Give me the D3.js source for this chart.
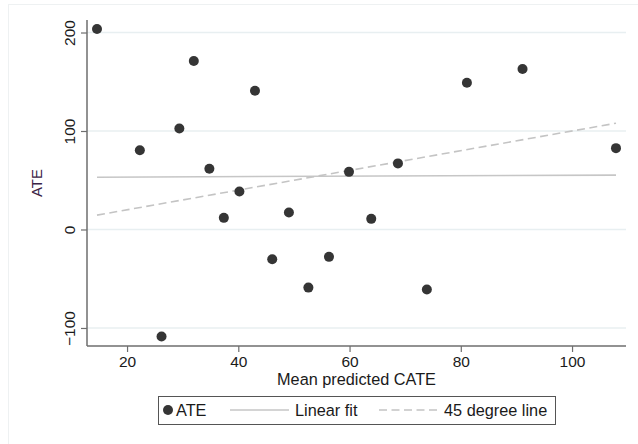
<!DOCTYPE html>
<html>
<head>
<meta charset="utf-8">
<script src="https://cdn.jsdelivr.net/npm/d3@7"></script>
<style>
  html, body { margin: 0; padding: 0; background: #fff; }
  svg { display: block; font-family: "Liberation Sans", Arial, sans-serif; }
</style>
</head>
<body>
<svg id="chart" width="638" height="444"></svg>
<script>
// Data
const cateX = [14.6, 22.3, 26.2, 29.4, 32.0, 34.8, 37.4, 40.2, 43.0, 46.1,
               49.1, 52.6, 56.3, 59.9, 63.9, 68.7, 73.9, 81.1, 91.1, 107.9];
const ateY  = [203.6, 80.5, -108.7, 102.6, 171.0, 61.6, 11.8, 38.6, 140.9, -30.2,
               17.3, -59.0, -27.8, 58.5, 10.8, 67.1, -61.0, 149.0, 162.9, 82.6];
const fitX = [14.6, 107.9];
const fitY = [53.1, 55.2];
const degX = [14.6, 107.9];
const xTicks = [20, 40, 60, 80, 100];
const yTicks = [-100, 0, 100, 200];
const legendLabels = ["ATE", "Linear fit", "45 degree line"];

const svg = d3.select("#chart");
const L = 87, R = 626, T = 20, B = 346;

const x = d3.scaleLinear().domain([12.8, 109.7]).range([L, R]);
const y = d3.scaleLinear().domain([-118.3, 212.7]).range([B, T]);

// faint outer frame
svg.append("rect").attr("x", 8.5).attr("y", 4.5).attr("width", 640).attr("height", 450)
  .attr("fill", "none").attr("stroke", "#eef1f2").attr("stroke-width", 1);

// gridlines
svg.append("g").selectAll("line").data(yTicks).join("line")
  .attr("x1", L).attr("x2", R)
  .attr("y1", d => y(d)).attr("y2", d => y(d))
  .attr("stroke", "#e8eff1").attr("stroke-width", 1.5);

// axes
const yAxis = svg.append("g").attr("transform", `translate(${L},0)`)
  .call(d3.axisLeft(y).tickValues(yTicks).tickSize(6).tickPadding(5).tickFormat(d3.format("d")));
const xAxis = svg.append("g").attr("transform", `translate(0,${B})`)
  .call(d3.axisBottom(x).tickValues(xTicks).tickSize(6).tickPadding(4).tickFormat(d3.format("d")));

[yAxis, xAxis].forEach(a => {
  a.select(".domain").attr("stroke", "#6e6e6e").attr("stroke-width", 1.5);
  a.selectAll(".tick line").attr("stroke", "#6e6e6e").attr("stroke-width", 1.2);
  a.selectAll(".tick text").attr("fill", "#1a1a1a").attr("font-size", 15.5)
    .attr("font-family", "Liberation Sans, Arial, sans-serif");
});
yAxis.select(".domain").attr("d", `M0,${T}V${B}`);
xAxis.select(".domain").attr("d", `M${L},0H${R}`);

// rotate y tick labels (Stata style)
yAxis.selectAll(".tick text")
  .attr("transform", "rotate(-90)")
  .attr("x", 0).attr("y", -12)
  .attr("dy", 0)
  .attr("text-anchor", "middle");

// axis titles
svg.append("text").attr("transform", `translate(42,183) rotate(-90)`)
  .attr("text-anchor", "middle").attr("font-size", 15).attr("fill", "#3a2346")
  .text("ATE");
svg.append("text").attr("x", (L + R) / 2).attr("y", 385)
  .attr("text-anchor", "middle").attr("font-size", 16.3).attr("fill", "#1a1a1a")
  .text("Mean predicted CATE");

// linear fit
const line = d3.line().x(d => x(d[0])).y(d => y(d[1]));
svg.append("path").datum(d3.zip(fitX, fitY)).attr("d", line)
  .attr("fill", "none").attr("stroke", "#c6c6c6").attr("stroke-width", 1.6);

// 45 degree line
svg.append("path").datum(degX.map(v => [v, v])).attr("d", line)
  .attr("fill", "none").attr("stroke", "#c4c4c4").attr("stroke-width", 1.6)
  .attr("stroke-dasharray", "8,4.5");

// points
svg.append("g").selectAll("circle").data(d3.zip(cateX, ateY)).join("circle")
  .attr("cx", d => x(d[0])).attr("cy", d => y(d[1])).attr("r", 5)
  .attr("fill", "#353535");

// legend
const lg = svg.append("g");
lg.append("rect").attr("x", 158.5).attr("y", 396.5).attr("width", 397).attr("height", 28)
  .attr("fill", "#fff").attr("stroke", "#555").attr("stroke-width", 1);
lg.append("circle").attr("cx", 168).attr("cy", 410).attr("r", 5).attr("fill", "#353535");
lg.append("text").attr("x", 176).attr("y", 416).attr("font-size", 16.3).attr("fill", "#1a1a1a").text(legendLabels[0]);
lg.append("line").attr("x1", 230).attr("x2", 289).attr("y1", 410).attr("y2", 410)
  .attr("stroke", "#c6c6c6").attr("stroke-width", 1.6);
lg.append("text").attr("x", 295).attr("y", 416).attr("font-size", 16.3).attr("fill", "#1a1a1a").text(legendLabels[1]);
lg.append("line").attr("x1", 379).attr("x2", 439).attr("y1", 410).attr("y2", 410)
  .attr("stroke", "#c4c4c4").attr("stroke-width", 1.6).attr("stroke-dasharray", "8,4.5");
lg.append("text").attr("x", 444).attr("y", 416).attr("font-size", 16.3).attr("fill", "#1a1a1a").text(legendLabels[2]);
</script>
</body>
</html>
